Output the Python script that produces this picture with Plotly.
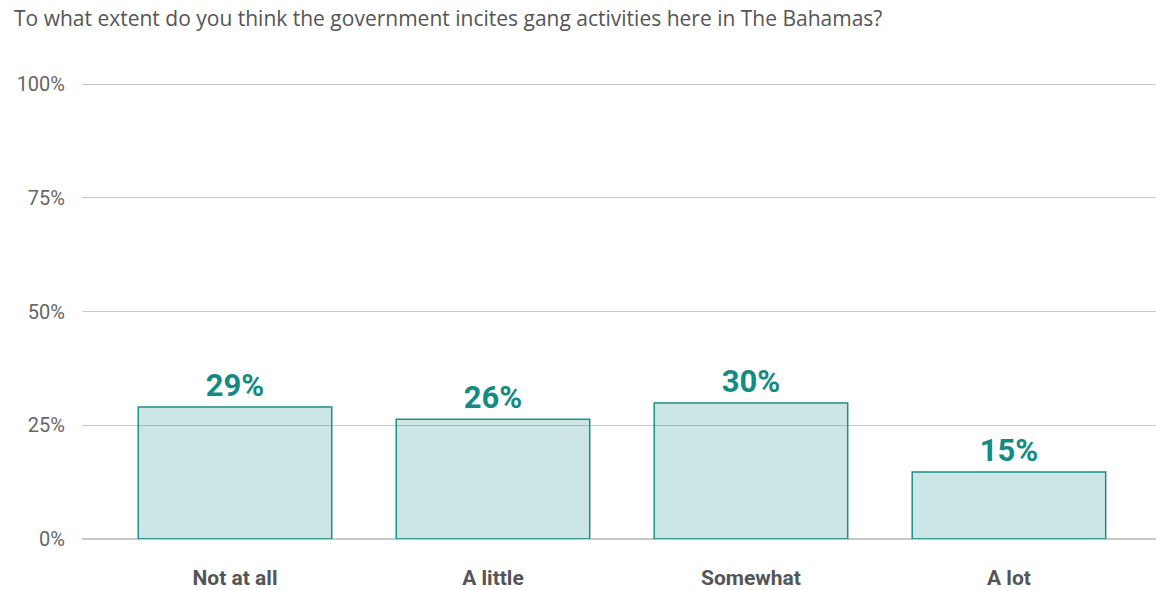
import plotly.graph_objects as go

categories = ["Not at all", "A little", "Somewhat", "A lot"]
values = [29.0, 26.3, 29.9, 14.7]
value_labels = ["29%", "26%", "30%", "15%"]
tick_vals = [0, 25, 50, 75, 100]
tick_text = ["0%", "25%", "50%", "75%", "100%"]
title_text = "To what extent do you think the government incites gang activities here in The Bahamas?"

fig = go.Figure(go.Bar(
    x=categories, y=values, text=value_labels, textposition="outside",
    textfont=dict(family="Roboto", size=31, color="#138a82", weight="bold"),
    marker=dict(color="rgba(0,128,128,0.2)", line=dict(color="#1c8f88", width=1.5)),
    width=0.75, cliponaxis=False,
))
fig.update_layout(
    width=1156, height=590,
    margin=dict(l=82, r=0, t=80, b=51),
    paper_bgcolor="white", plot_bgcolor="white",
    showlegend=False,
    title=dict(text=title_text, x=0, xref="container", xanchor="left",
               y=1 - 19 / 590, yref="container", yanchor="middle", pad=dict(l=14),
               font=dict(family="Open Sans", size=21, color="#555")),
    xaxis=dict(range=[-0.593, 3.57], showgrid=False, zeroline=False, showline=False,
               ticks="outside", ticklen=20, tickcolor="rgba(0,0,0,0)",
               tickfont=dict(family="Roboto", size=21, color="#555", weight="bold")),
    yaxis=dict(range=[0, 100.88], tickvals=tick_vals, ticktext=tick_text,
               gridcolor="#c8c8c8", gridwidth=1, zeroline=True, zerolinecolor="#c8c8c8",
               ticklabelstandoff=16,
               tickfont=dict(family="Roboto", size=20, color="#666")),
)
fig.write_html("out.html")
